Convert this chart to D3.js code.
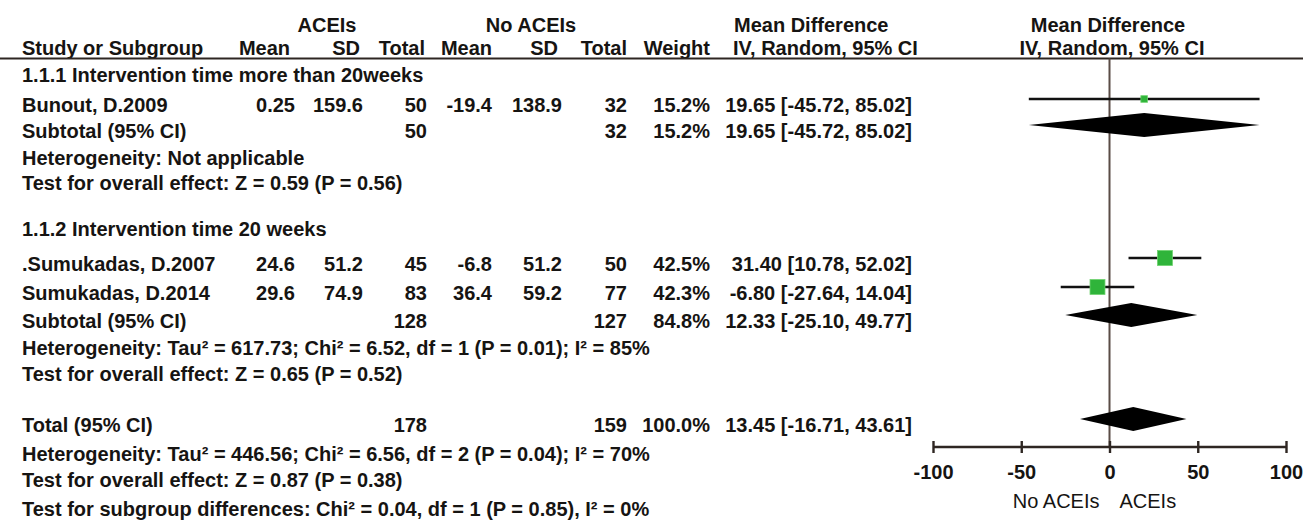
<!DOCTYPE html>
<html>
<head>
<meta charset="utf-8">
<script src="https://cdn.jsdelivr.net/npm/d3@7"></script>
<style>
  body { margin: 0; background: #fff; }
  text { font-family: "Liberation Sans", Arial, sans-serif; font-weight: bold; font-size: 20px; fill: #161412; }
</style>
</head>
<body>
<div id="chart"></div>
<script>
// ---- data ----
const studyNames = ["Bunout, D.2009", ".Sumukadas, D.2007", "Sumukadas, D.2014"];
const aceiMean = [0.25, 24.6, 29.6];
const aceiSD = [159.6, 51.2, 74.9];
const aceiN = [50, 45, 83];
const ctrlMean = [-19.4, -6.8, 36.4];
const ctrlSD = [138.9, 51.2, 59.2];
const ctrlN = [32, 50, 77];
const studyWeight = [15.2, 42.5, 42.3];
const studyMD = [19.65, 31.40, -6.80];
const studyLo = [-45.72, 10.78, -27.64];
const studyHi = [85.02, 52.02, 14.04];

const subgroupTitles = ["1.1.1 Intervention time more than 20weeks", "1.1.2 Intervention time 20 weeks"];
const subgroupStudies = [[0], [1, 2]];
const subAceiN = [50, 128];
const subCtrlN = [32, 127];
const subWeight = [15.2, 84.8];
const subMD = [19.65, 12.33];
const subLo = [-45.72, -25.10];
const subHi = [85.02, 49.77];
const subHet = ["Heterogeneity: Not applicable",
  "Heterogeneity: Tau\u00b2 = 617.73; Chi\u00b2 = 6.52, df = 1 (P = 0.01); I\u00b2 = 85%"];
const subTest = ["Test for overall effect: Z = 0.59 (P = 0.56)",
  "Test for overall effect: Z = 0.65 (P = 0.52)"];

const totalAceiN = 178, totalCtrlN = 159, totalWeight = 100.0;
const totalMD = 13.45, totalLo = -16.71, totalHi = 43.61;
const totalNotes = ["Heterogeneity: Tau\u00b2 = 446.56; Chi\u00b2 = 6.56, df = 2 (P = 0.04); I\u00b2 = 70%",
  "Test for overall effect: Z = 0.87 (P = 0.38)",
  "Test for subgroup differences: Chi\u00b2 = 0.04, df = 1 (P = 0.85), I\u00b2 = 0%"];

const xTicks = [-100, -50, 0, 50, 100];
const favourLabels = ["No ACEIs", "ACEIs"];

// ---- layout ----
const width = 1303, height = 520;
const svg = d3.select("#chart").append("svg")
  .attr("width", width).attr("height", height)
  .attr("viewBox", `0 0 ${width} ${height}`);
svg.append("rect").attr("width", width).attr("height", height).attr("fill", "#fff");

const labelX = 22;
const colX = [295, 363, 427, 492, 562, 627, 710];   // right edges of numeric columns
const ciX = 912;
const x = d3.scaleLinear().domain([-100, 100]).range([933, 1286]);
const axisY = 447;
const headerLineY = 58.5;
const markSize = d3.scaleLinear().domain([0, 42.5]).range([2, 15]);

// baselines of each text line
const rowY = {
  groups: [82, 236],
  studies: [[112], [271, 300]],
  subs: [138, 328],
  hets: [165, 355],
  tests: [190, 381],
  total: 432,
  notes: [461, 487, 516]
};
const markOffset = 13;

const txt = (s, xx, yy, anchor) => svg.append("text")
  .attr("x", xx).attr("y", yy).attr("text-anchor", anchor || "start").text(s);
const fmtCI = (m, lo, hi) => `${m.toFixed(2)} [${lo.toFixed(2)}, ${hi.toFixed(2)}]`;

// ---- headers ----
txt("ACEIs", 327, 32, "middle");
txt("No ACEIs", 531, 32, "middle");
txt("Mean Difference", 734, 32);
txt("Mean Difference", 1108, 32, "middle");
txt("Study or Subgroup", labelX, 55);
const hdrX = [290, 360, 425, 492, 558, 627, 710];
["Mean", "SD", "Total", "Mean", "SD", "Total", "Weight"].forEach((h, i) => txt(h, hdrX[i], 55, "end"));
txt("IV, Random, 95% CI", 733, 55);
txt("IV, Random, 95% CI", 1112, 55, "middle");
svg.append("line").attr("x1", 0).attr("x2", width).attr("y1", headerLineY).attr("y2", headerLineY)
  .attr("stroke", "#2e2622").attr("stroke-width", 2.2);

// zero line
svg.append("line").attr("x1", x(0)).attr("x2", x(0)).attr("y1", headerLineY).attr("y2", axisY)
  .attr("stroke", "#5a4c46").attr("stroke-width", 2);

const plot = svg.append("g");
function diamond(m, lo, hi, yy) {
  plot.append("path")
    .attr("d", `M${x(lo)},${yy} L${x(m)},${yy - 12} L${x(hi)},${yy} L${x(m)},${yy + 12} Z`)
    .attr("fill", "#000");
}

// ---- subgroups ----
subgroupTitles.forEach((title, g) => {
  txt(title, labelX, rowY.groups[g]);
  subgroupStudies[g].forEach((i, k) => {
    const yy = rowY.studies[g][k];
    txt(studyNames[i], labelX, yy);
    const vals = [aceiMean[i], aceiSD[i], aceiN[i], ctrlMean[i], ctrlSD[i], ctrlN[i], studyWeight[i].toFixed(1) + "%"];
    vals.forEach((v, c) => txt(String(v), colX[c], yy, "end"));
    txt(fmtCI(studyMD[i], studyLo[i], studyHi[i]), ciX, yy, "end");
    const my = yy - markOffset;
    plot.append("line").attr("x1", x(studyLo[i])).attr("x2", x(studyHi[i]))
      .attr("y1", my).attr("y2", my).attr("stroke", "#111").attr("stroke-width", 2.4);
    const s = markSize(studyWeight[i]);
    plot.append("rect").attr("x", x(studyMD[i]) - s / 2).attr("y", my - s / 2)
      .attr("width", s).attr("height", s).attr("fill", "#2fb43a")
      .attr("stroke", "#6fd36f").attr("stroke-width", 0.8);
  });
  const sy = rowY.subs[g];
  txt("Subtotal (95% CI)", labelX, sy);
  txt(String(subAceiN[g]), colX[2], sy, "end");
  txt(String(subCtrlN[g]), colX[5], sy, "end");
  txt(subWeight[g].toFixed(1) + "%", colX[6], sy, "end");
  txt(fmtCI(subMD[g], subLo[g], subHi[g]), ciX, sy, "end");
  diamond(subMD[g], subLo[g], subHi[g], sy - markOffset);
  txt(subHet[g], labelX, rowY.hets[g]);
  txt(subTest[g], labelX, rowY.tests[g]);
});

// ---- total ----
txt("Total (95% CI)", labelX, rowY.total);
txt(String(totalAceiN), colX[2], rowY.total, "end");
txt(String(totalCtrlN), colX[5], rowY.total, "end");
txt(totalWeight.toFixed(1) + "%", colX[6], rowY.total, "end");
txt(fmtCI(totalMD, totalLo, totalHi), ciX, rowY.total, "end");
diamond(totalMD, totalLo, totalHi, rowY.total - markOffset);
totalNotes.forEach((n, i) => txt(n, labelX, rowY.notes[i]));

// ---- axis ----
const axis = svg.append("g").attr("transform", `translate(0,${axisY})`)
  .call(d3.axisBottom(x).tickValues(xTicks).tickSize(6).tickPadding(12).tickFormat(d => String(d)));
axis.select(".domain").attr("stroke", "#2e2622").attr("stroke-width", 2.4).attr("d", `M${x(-100)},0H${x(100)}`);
axis.selectAll(".tick line").attr("y1", -6).attr("y2", 6).attr("stroke", "#2e2622").attr("stroke-width", 2.4);
axis.selectAll(".tick text").attr("fill", "#161412")
  .style("font-family", '"Liberation Sans", Arial, sans-serif').style("font-size", "20px").style("font-weight", "bold");
svg.append("text").attr("x", x(0) - 10).attr("y", 508).attr("text-anchor", "end")
  .style("font-weight", "normal").text(favourLabels[0]);
svg.append("text").attr("x", x(0) + 10).attr("y", 508).attr("text-anchor", "start")
  .style("font-weight", "normal").text(favourLabels[1]);
</script>
</body>
</html>
